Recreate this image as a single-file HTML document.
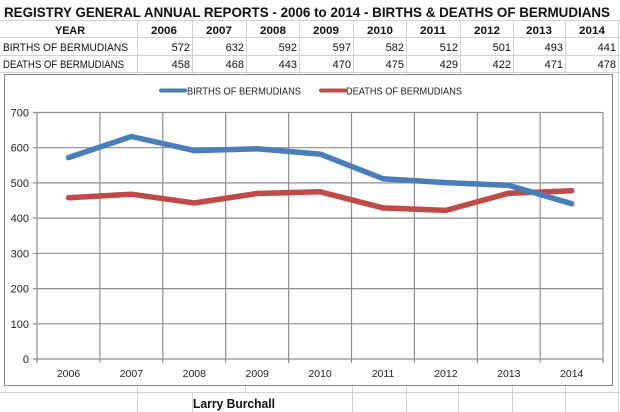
<!DOCTYPE html>
<html>
<head>
<meta charset="utf-8">
<style>
html,body{margin:0;padding:0;background:#fff;}
svg{display:block;}
text{font-family:"Liberation Sans",Arial,sans-serif;}
</style>
</head>
<body>
<svg width="620" height="412" viewBox="0 0 620 412" xmlns="http://www.w3.org/2000/svg">
<rect x="0" y="0" width="620" height="412" fill="#ffffff"/>
<!-- spreadsheet grid lines -->
<g stroke="#d2d2d2" stroke-width="1" fill="none">
  <line x1="0" y1="20.5" x2="620" y2="20.5"/>
  <line x1="0" y1="37.5" x2="620" y2="37.5"/>
  <line x1="0" y1="55.5" x2="620" y2="55.5"/>
  <line x1="0" y1="72.5" x2="620" y2="72.5"/>
  <line x1="0" y1="392.5" x2="620" y2="392.5"/>
  <line x1="137.5" y1="20" x2="137.5" y2="74"/>
  <line x1="192.5" y1="20" x2="192.5" y2="74"/>
  <line x1="246.5" y1="20" x2="246.5" y2="74"/>
  <line x1="299.5" y1="20" x2="299.5" y2="74"/>
  <line x1="353.5" y1="20" x2="353.5" y2="74"/>
  <line x1="406.5" y1="20" x2="406.5" y2="74"/>
  <line x1="460.5" y1="20" x2="460.5" y2="74"/>
  <line x1="513.5" y1="20" x2="513.5" y2="74"/>
  <line x1="565.5" y1="20" x2="565.5" y2="74"/>
  <line x1="618.5" y1="20" x2="618.5" y2="412"/>
  <line x1="137.5" y1="386" x2="137.5" y2="412"/>
  <line x1="192.5" y1="393" x2="192.5" y2="412"/>
  <line x1="245.5" y1="386" x2="245.5" y2="393"/>
  <line x1="352.5" y1="386" x2="352.5" y2="412"/>
  <line x1="406.5" y1="386" x2="406.5" y2="412"/>
  <line x1="458.5" y1="386" x2="458.5" y2="412"/>
  <line x1="512.5" y1="386" x2="512.5" y2="412"/>
  <line x1="565.5" y1="386" x2="565.5" y2="412"/>
</g>

<!-- title -->
<text x="4" y="17" font-size="14" font-weight="bold" fill="#111" textLength="606" lengthAdjust="spacingAndGlyphs">REGISTRY GENERAL ANNUAL REPORTS - 2006 to 2014 - BIRTHS &amp; DEATHS OF BERMUDIANS</text>

<!-- table -->
<g font-size="11" fill="#111">
  <text x="70" y="34" font-weight="bold" text-anchor="middle" textLength="30" lengthAdjust="spacingAndGlyphs">YEAR</text>
  <g font-weight="bold" text-anchor="middle">
    <text x="164" y="34" textLength="26" lengthAdjust="spacingAndGlyphs">2006</text>
    <text x="219" y="34" textLength="26" lengthAdjust="spacingAndGlyphs">2007</text>
    <text x="273" y="34" textLength="26" lengthAdjust="spacingAndGlyphs">2008</text>
    <text x="326" y="34" textLength="26" lengthAdjust="spacingAndGlyphs">2009</text>
    <text x="380" y="34" textLength="26" lengthAdjust="spacingAndGlyphs">2010</text>
    <text x="433" y="34" textLength="26" lengthAdjust="spacingAndGlyphs">2011</text>
    <text x="487" y="34" textLength="26" lengthAdjust="spacingAndGlyphs">2012</text>
    <text x="539" y="34" textLength="26" lengthAdjust="spacingAndGlyphs">2013</text>
    <text x="592" y="34" textLength="26" lengthAdjust="spacingAndGlyphs">2014</text>
  </g>
  <text x="3" y="51" textLength="125" lengthAdjust="spacingAndGlyphs">BIRTHS OF BERMUDIANS</text>
  <text x="3" y="68" textLength="121" lengthAdjust="spacingAndGlyphs">DEATHS OF BERMUDIANS</text>
  <g text-anchor="end">
    <text x="190" y="51">572</text>
    <text x="244" y="51">632</text>
    <text x="297" y="51">592</text>
    <text x="351" y="51">597</text>
    <text x="404" y="51">582</text>
    <text x="458" y="51">512</text>
    <text x="511" y="51">501</text>
    <text x="563" y="51">493</text>
    <text x="616" y="51">441</text>
    <text x="190" y="68">458</text>
    <text x="244" y="68">468</text>
    <text x="297" y="68">443</text>
    <text x="351" y="68">470</text>
    <text x="404" y="68">475</text>
    <text x="458" y="68">429</text>
    <text x="511" y="68">422</text>
    <text x="563" y="68">471</text>
    <text x="616" y="68">478</text>
  </g>
</g>

<!-- chart box -->
<rect x="4.5" y="74.5" width="608" height="311" fill="#ffffff" stroke="#8a8a8a" stroke-width="1"/>

<!-- legend -->
<line x1="161" y1="90.5" x2="185" y2="90.5" stroke="#4a7ebb" stroke-width="4" stroke-linecap="round"/>
<text x="187" y="94.5" font-size="10" fill="#222" textLength="114" lengthAdjust="spacingAndGlyphs">BIRTHS OF BERMUDIANS</text>
<line x1="321" y1="90.5" x2="345" y2="90.5" stroke="#be4b48" stroke-width="4" stroke-linecap="round"/>
<text x="346" y="94.5" font-size="10" fill="#222" textLength="116" lengthAdjust="spacingAndGlyphs">DEATHS OF BERMUDIANS</text>

<!-- plot gridlines -->
<g stroke="#8f8f8f" stroke-width="1.2" fill="none">
  <line x1="33" y1="112.5" x2="603" y2="112.5"/>
  <line x1="33" y1="147.7" x2="603" y2="147.7"/>
  <line x1="33" y1="182.9" x2="603" y2="182.9"/>
  <line x1="33" y1="218.1" x2="603" y2="218.1"/>
  <line x1="33" y1="253.3" x2="603" y2="253.3"/>
  <line x1="33" y1="288.6" x2="603" y2="288.6"/>
  <line x1="33" y1="323.8" x2="603" y2="323.8"/>
  <line x1="33" y1="359" x2="603" y2="359"/>
  <line x1="37" y1="112.5" x2="37" y2="363"/>
  <line x1="99.9" y1="112.5" x2="99.9" y2="363"/>
  <line x1="162.8" y1="112.5" x2="162.8" y2="363"/>
  <line x1="225.7" y1="112.5" x2="225.7" y2="363"/>
  <line x1="288.6" y1="112.5" x2="288.6" y2="363"/>
  <line x1="351.5" y1="112.5" x2="351.5" y2="363"/>
  <line x1="414.4" y1="112.5" x2="414.4" y2="363"/>
  <line x1="477.3" y1="112.5" x2="477.3" y2="363"/>
  <line x1="540.2" y1="112.5" x2="540.2" y2="363"/>
  <line x1="603" y1="112.5" x2="603" y2="363"/>
</g>

<!-- y labels -->
<g font-size="11" fill="#222" text-anchor="end">
  <text x="29" y="116.5">700</text>
  <text x="29" y="151.7">600</text>
  <text x="29" y="186.9">500</text>
  <text x="29" y="222.1">400</text>
  <text x="29" y="257.3">300</text>
  <text x="29" y="292.6">200</text>
  <text x="29" y="327.8">100</text>
  <text x="29" y="363">0</text>
</g>

<!-- x labels -->
<g font-size="10.5" fill="#222" text-anchor="middle">
  <text x="68.5" y="377">2006</text>
  <text x="131.4" y="377">2007</text>
  <text x="194.3" y="377">2008</text>
  <text x="257.2" y="377">2009</text>
  <text x="320.1" y="377">2010</text>
  <text x="383" y="377">2011</text>
  <text x="445.9" y="377">2012</text>
  <text x="508.8" y="377">2013</text>
  <text x="571.7" y="377">2014</text>
</g>

<!-- series -->
<polyline fill="none" stroke="#be4b48" stroke-width="5.5" stroke-linejoin="round" stroke-linecap="round"
  points="68.5,197.7 131.4,194.2 194.3,203.0 257.2,193.5 320.1,191.8 383,207.9 445.9,210.4 508.8,193.2 571.7,190.7"/>
<polyline fill="none" stroke="#4a7ebb" stroke-width="5.5" stroke-linejoin="round" stroke-linecap="round"
  points="68.5,157.6 131.4,136.5 194.3,150.6 257.2,148.8 320.1,154.1 383,178.7 445.9,182.6 508.8,185.4 571.7,203.7"/>

<!-- author -->
<text x="193" y="408" font-size="13" font-weight="bold" fill="#111" textLength="82" lengthAdjust="spacingAndGlyphs">Larry  Burchall</text>
</svg>
</body>
</html>
